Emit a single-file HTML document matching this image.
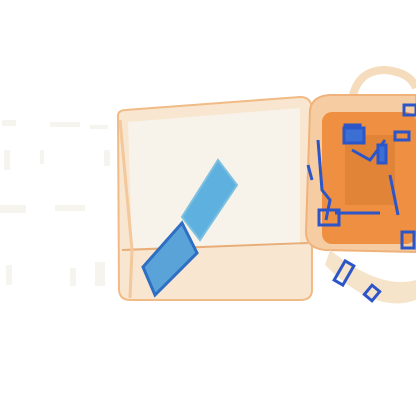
<!DOCTYPE html>
<html><head><meta charset="utf-8"><style>html,body{margin:0;padding:0;background:#fff}svg{display:block}</style></head>
<body>
<svg width="416" height="416" viewBox="0 0 416 416">
<g fill="#eeebe0" opacity="0.5">
<rect x="2" y="120" width="14" height="6"/><rect x="50" y="122" width="30" height="5"/><rect x="90" y="125" width="18" height="4"/>
<rect x="4" y="150" width="6" height="20"/><rect x="0" y="205" width="26" height="8"/><rect x="55" y="205" width="30" height="6"/>
<rect x="6" y="265" width="6" height="20"/><rect x="70" y="268" width="6" height="18"/><rect x="95" y="262" width="10" height="24"/>
<rect x="40" y="150" width="4" height="14"/><rect x="104" y="150" width="6" height="16"/>
</g>
<g>
<path d="M118 118 Q117 110 126 110 L300 97 Q311 97 312 108 L312 290 Q312 300 300 300 L130 300 Q120 300 119 290 Z" fill="#f8e6d0" stroke="#f0bb85" stroke-width="2"/>
<path d="M128 122 L300 108 L300 245 L132 250 Z" fill="#f7f3ea"/>
<path d="M122 250 L308 243" stroke="#e9ae78" stroke-width="2"/>
<path d="M120 120 L132 250 L130 298" stroke="#f2c89c" stroke-width="3" fill="none"/>
</g>
<polygon points="218,160 237,185 200,240 182,217" fill="#5eb1df" stroke="#7cc0e0" stroke-width="2"/>
<polygon points="143,267 182,223 197,253 155,295" fill="#5aa3d8" stroke="#2e6fc4" stroke-width="3"/>
<g>
<path d="M352 100 Q357 70 385 70 Q410 72 416 88" stroke="#f5dcbd" stroke-width="8" fill="none"/>
<path d="M310 110 Q312 96 330 95 L416 95 L416 252 L325 250 Q306 248 306 232 Z" fill="#f6cda3" stroke="#efb27a" stroke-width="2"/>
<rect x="322" y="112" width="94" height="132" rx="10" fill="#ee8f42"/>
<rect x="345" y="135" width="50" height="70" fill="#d57a2c" opacity="0.5"/>
<path d="M330 250 Q380 290 416 280 L416 300 Q375 315 325 265 Z" fill="#f6e4ca"/>
</g>
<g fill="none" stroke="#2c55c8" stroke-width="3">
<rect x="345" y="125" width="15" height="6"/><rect x="395" y="132" width="14" height="8"/><rect x="344" y="128" width="20" height="15" fill="#3b6fd4"/>
<path d="M318 140 L322 190 L330 200 L326 220"/><path d="M308 165 L312 180"/><rect x="319" y="210" width="20" height="15"/>
<path d="M352 150 L370 160 L385 140"/><rect x="378" y="145" width="8" height="18" fill="#3b6fd4"/>
<path d="M390 175 L395 200 L398 215"/><rect x="402" y="232" width="12" height="16"/>
<path d="M335 213 L380 213"/><rect x="404" y="105" width="12" height="10"/>
<rect x="339" y="262" width="10" height="22" transform="rotate(30 344 273)"/>
<rect x="367" y="287" width="10" height="12" transform="rotate(40 372 293)"/>
</g>
</svg>
</body></html>
